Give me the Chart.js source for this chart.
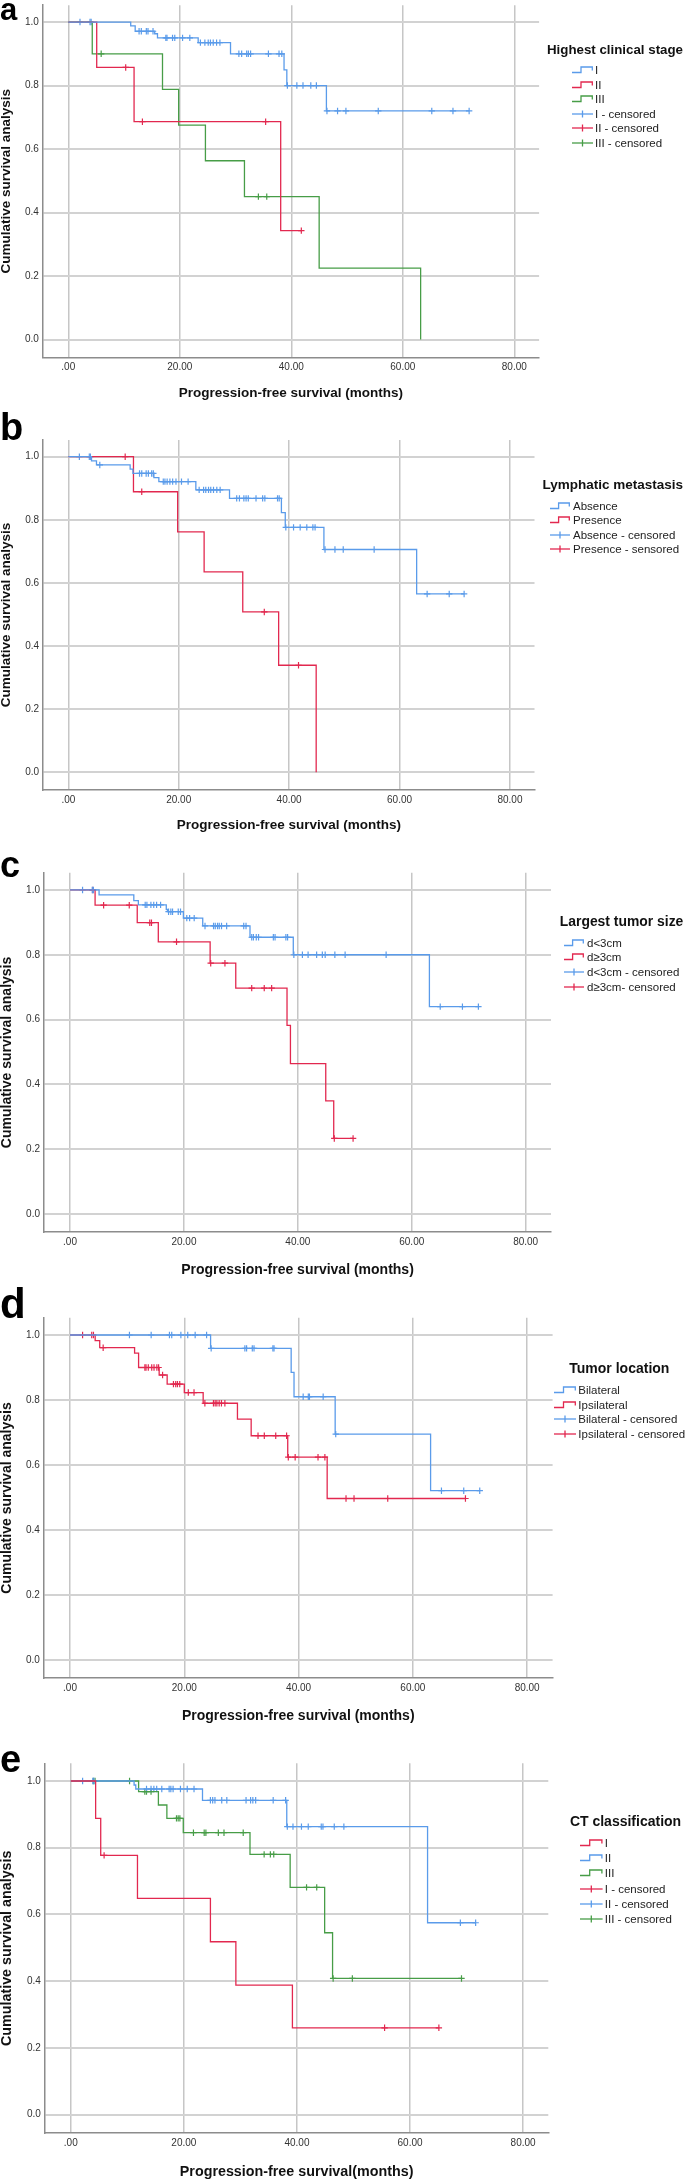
<!DOCTYPE html>
<html>
<head>
<meta charset="utf-8">
<title>Progression-free survival by clinical factors</title>
<script src="https://cdn.jsdelivr.net/npm/chart.js@4.4.1/dist/chart.umd.min.js"></script>
<style>
  html, body { margin: 0; padding: 0; background: #fff; }
  body { position: relative; width: 685px; height: 2180px; overflow: hidden; font-family: Arial, "Liberation Sans", sans-serif; }
  canvas { position: absolute; left: 0; }
  .letter { position: absolute; left: 0; font-weight: bold; line-height: 1; color: #000; }
  .lg-title { position: absolute; height: 16px; line-height: 16px; font-weight: bold; white-space: nowrap; color: #111; }
  .lg-row { position: absolute; height: 14px; line-height: 14px; font-size: 11.5px; white-space: nowrap; color: #222; }
  .lg-row svg { position: absolute; left: 0; top: 2px; }
  .lg-row span { position: absolute; top: 0; }
</style>
</head>
<body>
<script>
// Shared axes
const xTicks = [0, 20, 40, 60, 80];
const xTickLabels = ['.00', '20.00', '40.00', '60.00', '80.00'];
const yTicks = [0, 0.2, 0.4, 0.6, 0.8, 1.0];
const yTickLabels = ['0.0', '0.2', '0.4', '0.6', '0.8', '1.0'];

// a - Highest clinical stage (event times, survival after event, censored times)
const stageI_t = [0, 11.2, 12.0, 15.5, 16.0, 23.3, 29.1, 38.7, 39.2, 46.3, 71.9];
const stageI_s = [1, 0.988, 0.971, 0.963, 0.950, 0.935, 0.900, 0.849, 0.800, 0.720, 0.720];
const stageI_c = [2.1, 3.9, 4.1, 12.7, 13.1, 14.0, 14.3, 15.2, 17.5, 17.7, 18.7, 19.1, 20.5, 21.8, 23.7, 24.5, 25.1, 25.5, 26.0, 26.6, 27.2, 30.6, 31.1, 32.0, 32.3, 32.7, 35.9, 37.8, 38.3, 39.3, 41.0, 42.1, 43.5, 44.5, 46.4, 48.3, 49.8, 55.6, 65.2, 69.0, 71.9];
const stageII_t = [0, 5.1, 11.8, 38.1, 41.8];
const stageII_s = [1, 0.857, 0.686, 0.343, 0.343];
const stageII_c = [10.3, 13.3, 35.4, 41.8];
const stageIII_t = [0, 4.3, 16.9, 19.8, 24.6, 31.6, 45.0, 63.2];
const stageIII_s = [1, 0.900, 0.788, 0.675, 0.563, 0.450, 0.225, 0];
const stageIII_c = [5.9, 34.1, 35.6];
const stageLegend = ['I', 'II', 'III', 'I - censored', 'II - censored', 'III - censored'];

// b - Lymphatic metastasis
const lymphAbs_t = [0, 4.2, 5.1, 11.2, 11.7, 15.5, 16.4, 23.1, 29.2, 38.6, 39.3, 46.3, 63.1, 71.7];
const lymphAbs_s = [1, 0.987, 0.974, 0.961, 0.947, 0.934, 0.921, 0.895, 0.868, 0.823, 0.776, 0.706, 0.565, 0.565];
const lymphAbs_c = [2.0, 3.8, 4.0, 5.7, 12.9, 13.3, 14.1, 14.5, 15.1, 15.4, 17.2, 17.5, 17.9, 18.4, 18.9, 19.5, 20.5, 21.7, 23.7, 24.5, 24.9, 25.4, 25.8, 26.3, 26.9, 27.5, 30.5, 31.0, 31.8, 32.2, 32.6, 34.0, 35.2, 35.6, 37.9, 38.2, 39.4, 40.8, 42.0, 43.2, 44.3, 44.7, 46.5, 48.3, 49.8, 55.4, 65.0, 69.0, 71.7];
const lymphPre_t = [0, 11.8, 19.8, 24.6, 31.6, 38.1, 44.9];
const lymphPre_s = [1, 0.889, 0.762, 0.635, 0.508, 0.339, 0];
const lymphPre_c = [10.3, 13.3, 35.5, 41.7];
const lymphLegend = ['Absence', 'Presence', 'Absence - censored', 'Presence - sensored'];

// c - Largest tumor size
const sizeSmall_t = [0, 5.1, 11.2, 12.0, 16.9, 17.1, 19.9, 23.3, 31.6, 39.2, 63.1, 71.7];
const sizeSmall_s = [1, 0.985, 0.967, 0.954, 0.940, 0.933, 0.913, 0.889, 0.854, 0.800, 0.640, 0.640];
const sizeSmall_c = [2.2, 3.9, 4.1, 13.2, 13.5, 14.2, 14.7, 15.2, 15.9, 17.3, 17.7, 18.0, 19.0, 19.4, 20.5, 21.0, 21.8, 23.7, 25.2, 25.5, 25.9, 26.2, 26.6, 27.5, 30.5, 30.9, 31.9, 32.2, 32.7, 33.1, 35.7, 36.0, 37.9, 38.2, 39.3, 40.8, 41.8, 43.3, 44.3, 44.8, 46.5, 48.3, 55.5, 65.0, 68.9, 71.7];
const sizeLarge_t = [0, 4.4, 11.8, 15.5, 24.6, 29.1, 38.1, 38.7, 44.9, 46.3, 49.7];
const sizeLarge_s = [1, 0.953, 0.899, 0.840, 0.774, 0.697, 0.582, 0.464, 0.349, 0.233, 0.233];
const sizeLarge_c = [4.0, 5.9, 10.4, 14.0, 14.3, 18.7, 24.7, 27.2, 31.9, 34.1, 35.4, 46.4, 49.7];
const sizeLegend = ['d<3cm', 'd≥3cm', 'd<3cm - censored', 'd≥3cm- censored'];

// d - Tumor location
const locBi_t = [0, 24.6, 38.7, 39.2, 46.4, 63.1, 71.7];
const locBi_s = [1, 0.959, 0.885, 0.810, 0.695, 0.521, 0.521];
const locBi_c = [10.4, 14.2, 17.4, 17.8, 19.4, 20.6, 21.9, 23.9, 24.7, 30.6, 30.9, 31.9, 32.2, 35.5, 35.7, 40.8, 41.7, 41.9, 44.3, 46.5, 65.0, 68.9, 71.7];
const locIpsi_t = [0, 4.4, 5.2, 11.3, 12.0, 15.6, 17.0, 20.0, 23.3, 29.3, 31.7, 38.1, 45.0, 69.2];
const locIpsi_s = [1, 0.983, 0.961, 0.944, 0.900, 0.877, 0.849, 0.823, 0.790, 0.741, 0.690, 0.624, 0.497, 0.497];
const locIpsi_c = [2.2, 3.8, 4.1, 5.8, 13.1, 13.3, 13.7, 14.3, 14.7, 15.2, 15.5, 16.2, 18.1, 18.5, 18.8, 19.2, 20.7, 21.7, 23.6, 25.1, 25.4, 25.7, 26.1, 26.5, 27.1, 32.9, 34.0, 36.0, 37.9, 38.2, 39.4, 43.4, 44.6, 48.3, 49.7, 55.6, 69.2];
const locLegend = ['Bilateral', 'Ipsilateral', 'Bilateral - censored', 'Ipsilateral - censored'];

// e - CT classification
const ctI_t = [0, 4.4, 5.3, 11.8, 24.7, 29.2, 39.2, 65.1];
const ctI_s = [1, 0.888, 0.777, 0.648, 0.518, 0.388, 0.260, 0.260];
const ctI_c = [5.9, 55.5, 65.1];
const ctII_t = [0, 11.2, 11.5, 23.3, 38.2, 63.1, 71.6];
const ctII_s = [1, 0.988, 0.976, 0.942, 0.863, 0.575, 0.575];
const ctII_c = [2.1, 3.9, 4.1, 13.4, 14.2, 14.7, 15.2, 16.1, 17.4, 17.7, 18.1, 19.4, 20.6, 21.8, 24.7, 25.1, 25.5, 26.7, 27.6, 31.0, 31.8, 32.2, 32.7, 35.8, 38.0, 38.3, 39.3, 40.8, 42.0, 44.3, 44.6, 46.6, 48.3, 68.9, 71.6];
const ctIII_t = [0, 12.0, 15.5, 17.0, 19.9, 31.7, 38.8, 44.9, 46.3, 69.1];
const ctIII_s = [1, 0.968, 0.928, 0.888, 0.845, 0.780, 0.681, 0.545, 0.408, 0.408];
const ctIII_c = [4.0, 4.3, 10.4, 13.1, 13.4, 14.2, 18.7, 19.0, 19.3, 21.7, 23.6, 23.9, 26.1, 27.1, 30.5, 34.2, 35.3, 35.9, 41.7, 43.5, 46.4, 49.8, 69.1];
const ctLegend = ['I', 'II', 'III', 'I - censored', 'II - censored', 'III - censored'];

// Colours
const BLUE = '#5a9bea';
const RED = '#e2284f';
const GREEN = '#479d47';

// Axis ranges shared by all SPSS panels
const X_MIN = -4.57, X_MAX = 84.45;
const Y_MIN = -0.056, Y_MAX = 1.053;

Chart.defaults.font.family = 'Arial, "Liberation Sans", sans-serif';

// Panel geometry in page pixels (plot box, titles, legend placement)
const panels = [
  {
    letter: 'a', letterSize: 31, letterBase: 20.7,
    canvasTop: 0, left: 42.8, right: 539.1, top: 1.3, bottom: 357.3, titleY: 392.5, titleSize: 13.5,
    xTitle: 'Progression-free survival (months)',
    legendTitle: 'Highest clinical stage', legendLabels: stageLegend,
    lg: { titleX: 547, titleY: 50, titleSize: 13.3, iconX: 572, iconW: 21, textX: 595, rowY: 70, rowGap: 14.5 },
    curves: [
      { t: stageI_t, s: stageI_s, c: stageI_c, color: BLUE },
      { t: stageII_t, s: stageII_s, c: stageII_c, color: RED },
      { t: stageIII_t, s: stageIII_s, c: stageIII_c, color: GREEN }
    ]
  },
  {
    letter: 'b', letterSize: 38, letterBase: 440,
    canvasTop: 432, left: 43.1, right: 534.5, top: 440.0, bottom: 789.9, titleY: 825, titleSize: 13.5,
    xTitle: 'Progression-free survival (months)',
    legendTitle: 'Lymphatic metastasis', legendLabels: lymphLegend,
    lg: { titleX: 542.4, titleY: 485, titleSize: 13.5, iconX: 550, iconW: 20, textX: 573, rowY: 506, rowGap: 14.4 },
    curves: [
      { t: lymphAbs_t, s: lymphAbs_s, c: lymphAbs_c, color: BLUE },
      { t: lymphPre_t, s: lymphPre_s, c: lymphPre_c, color: RED }
    ]
  },
  {
    letter: 'c', letterSize: 36, letterBase: 877,
    canvasTop: 866, left: 44.0, right: 551.0, top: 872.8, bottom: 1232.1, titleY: 1269.7, titleSize: 14,
    xTitle: 'Progression-free survival (months)',
    legendTitle: 'Largest tumor size', legendLabels: sizeLegend,
    lg: { titleX: 559.8, titleY: 920.7, titleSize: 13.9, iconX: 564, iconW: 20, textX: 587, rowY: 942.7, rowGap: 14.7 },
    curves: [
      { t: sizeSmall_t, s: sizeSmall_s, c: sizeSmall_c, color: BLUE },
      { t: sizeLarge_t, s: sizeLarge_s, c: sizeLarge_c, color: RED }
    ]
  },
  {
    letter: 'd', letterSize: 42, letterBase: 1319,
    canvasTop: 1300, left: 43.9, right: 552.6, top: 1317.8, bottom: 1678.2, titleY: 1715.3, titleSize: 14,
    xTitle: 'Progression-free survival (months)',
    legendTitle: 'Tumor location', legendLabels: locLegend,
    lg: { titleX: 569.3, titleY: 1368.3, titleSize: 14, iconX: 554, iconW: 22, textX: 578.3, rowY: 1390, rowGap: 14.7 },
    curves: [
      { t: locBi_t, s: locBi_s, c: locBi_c, color: BLUE },
      { t: locIpsi_t, s: locIpsi_s, c: locIpsi_c, color: RED }
    ]
  },
  {
    letter: 'e', letterSize: 38, letterBase: 1771.7,
    canvasTop: 1740, left: 44.9, right: 548.3, top: 1763.3, bottom: 2133.2, titleY: 2171, titleSize: 14.3,
    xTitle: 'Progression-free survival(months)',
    legendTitle: 'CT classification', legendLabels: ctLegend,
    lg: { titleX: 569.9, titleY: 1820.7, titleSize: 14, iconX: 580, iconW: 22.6, textX: 604.8, rowY: 1842.7, rowGap: 15.3 },
    curves: [
      { t: ctI_t, s: ctI_s, c: ctI_c, color: RED },
      { t: ctII_t, s: ctII_s, c: ctII_c, color: BLUE },
      { t: ctIII_t, s: ctIII_s, c: ctIII_c, color: GREEN }
    ]
  }
];

// Step curve points: value after each event time
function stepPoints(times, surv) {
  return times.map((t, i) => ({ x: t, y: surv[i] }));
}

// Censor marks sit on the curve at their time
function survAt(times, surv, t) {
  let s = surv[0];
  for (let i = 0; i < times.length; i++) {
    if (times[i] <= t) s = surv[i];
  }
  return s;
}

function censorPoints(times, surv, cens) {
  return cens.map(t => ({ x: t, y: survAt(times, surv, t) }));
}

function iconSvg(color, censored, w) {
  const shape = censored
    ? `<line x1="0" y1="5" x2="${w}" y2="5"/><line x1="${w / 2}" y1="1.5" x2="${w / 2}" y2="8.5"/>`
    : `<polyline fill="none" points="0,7.5 ${(w * 0.43).toFixed(1)},7.5 ${(w * 0.43).toFixed(1)},2 ${w - 0.7},2 ${w - 0.7},5.5"/>`;
  return `<svg width="${w}" height="10" stroke="${color}" stroke-width="1.3">${shape}</svg>`;
}

function drawLetter(p) {
  const el = document.createElement('div');
  el.className = 'letter';
  el.textContent = p.letter;
  el.style.fontSize = p.letterSize + 'px';
  el.style.top = (p.letterBase - 0.8465 * p.letterSize) + 'px';
  document.body.appendChild(el);
}

function drawLegend(p) {
  const title = document.createElement('div');
  title.className = 'lg-title';
  title.textContent = p.legendTitle;
  title.style.fontSize = p.lg.titleSize + 'px';
  title.style.left = p.lg.titleX + 'px';
  title.style.top = (p.lg.titleY - 8) + 'px';
  document.body.appendChild(title);

  const n = p.curves.length;
  p.legendLabels.forEach((txt, i) => {
    const row = document.createElement('div');
    row.className = 'lg-row';
    row.style.left = p.lg.iconX + 'px';
    row.style.top = (p.lg.rowY + i * p.lg.rowGap - 7) + 'px';
    row.innerHTML = iconSvg(p.curves[i % n].color, i >= n, p.lg.iconW);
    const span = document.createElement('span');
    span.style.left = (p.lg.textX - p.lg.iconX) + 'px';
    span.textContent = txt;
    row.appendChild(span);
    document.body.appendChild(row);
  });
}

function drawPanel(p) {
  const canvasH = Math.ceil(p.titleY + p.titleSize / 2 - p.canvasTop);
  const xAxisH = p.canvasTop + canvasH - p.bottom;
  const canvas = document.createElement('canvas');
  canvas.width = 685;
  canvas.height = canvasH;
  canvas.style.top = p.canvasTop + 'px';
  document.body.appendChild(canvas);

  const datasets = [];
  p.curves.forEach(c => {
    datasets.push({
      data: stepPoints(c.t, c.s),
      stepped: true,
      borderColor: c.color,
      borderWidth: 1.3,
      pointRadius: 0,
      fill: false
    });
  });
  p.curves.forEach(c => {
    datasets.push({
      data: censorPoints(c.t, c.s, c.c),
      showLine: false,
      pointStyle: 'cross',
      pointRadius: 3.2,
      pointBorderWidth: 1.2,
      pointBorderColor: c.color,
      borderColor: c.color
    });
  });

  const noPad = s => { s.paddingLeft = 0; s.paddingRight = 0; s.paddingTop = 0; s.paddingBottom = 0; };

  new Chart(canvas, {
    type: 'line',
    data: { datasets: datasets },
    options: {
      responsive: false,
      animation: false,
      devicePixelRatio: 1,
      layout: { padding: { top: p.top - p.canvasTop, right: 685 - p.right, bottom: 0, left: 0 } },
      plugins: { legend: { display: false }, tooltip: { enabled: false } },
      scales: {
        x: {
          type: 'linear',
          min: X_MIN,
          max: X_MAX,
          afterBuildTicks: s => { s.ticks = xTicks.map(v => ({ value: v })); },
          afterFit: s => { s.height = xAxisH; noPad(s); },
          grid: { color: '#c6c6c6', lineWidth: 1.5, drawTicks: false },
          border: { color: '#8c8c8c', width: 1.5 },
          ticks: {
            padding: 4,
            color: '#333',
            font: { size: 10 },
            callback: v => xTickLabels[xTicks.indexOf(v)]
          },
          title: {
            display: true,
            text: p.xTitle,
            color: '#111',
            padding: 0,
            font: { size: p.titleSize, weight: 'bold', lineHeight: 1 }
          }
        },
        y: {
          type: 'linear',
          min: Y_MIN,
          max: Y_MAX,
          afterBuildTicks: s => { s.ticks = yTicks.map(v => ({ value: v })); },
          afterFit: s => { s.width = p.left; noPad(s); },
          grid: { color: '#d2d2d2', lineWidth: 2, drawTicks: false },
          border: { color: '#8c8c8c', width: 1.5 },
          ticks: {
            padding: 4,
            color: '#333',
            font: { size: 10 },
            callback: v => yTickLabels[yTicks.indexOf(v)]
          },
          title: {
            display: true,
            text: 'Cumulative survival analysis',
            color: '#111',
            padding: 0,
            font: { size: p.titleSize, weight: 'bold', lineHeight: 1 }
          }
        }
      }
    }
  });
}

panels.forEach(p => {
  drawPanel(p);
  drawLetter(p);
  drawLegend(p);
});
</script>
</body>
</html>
